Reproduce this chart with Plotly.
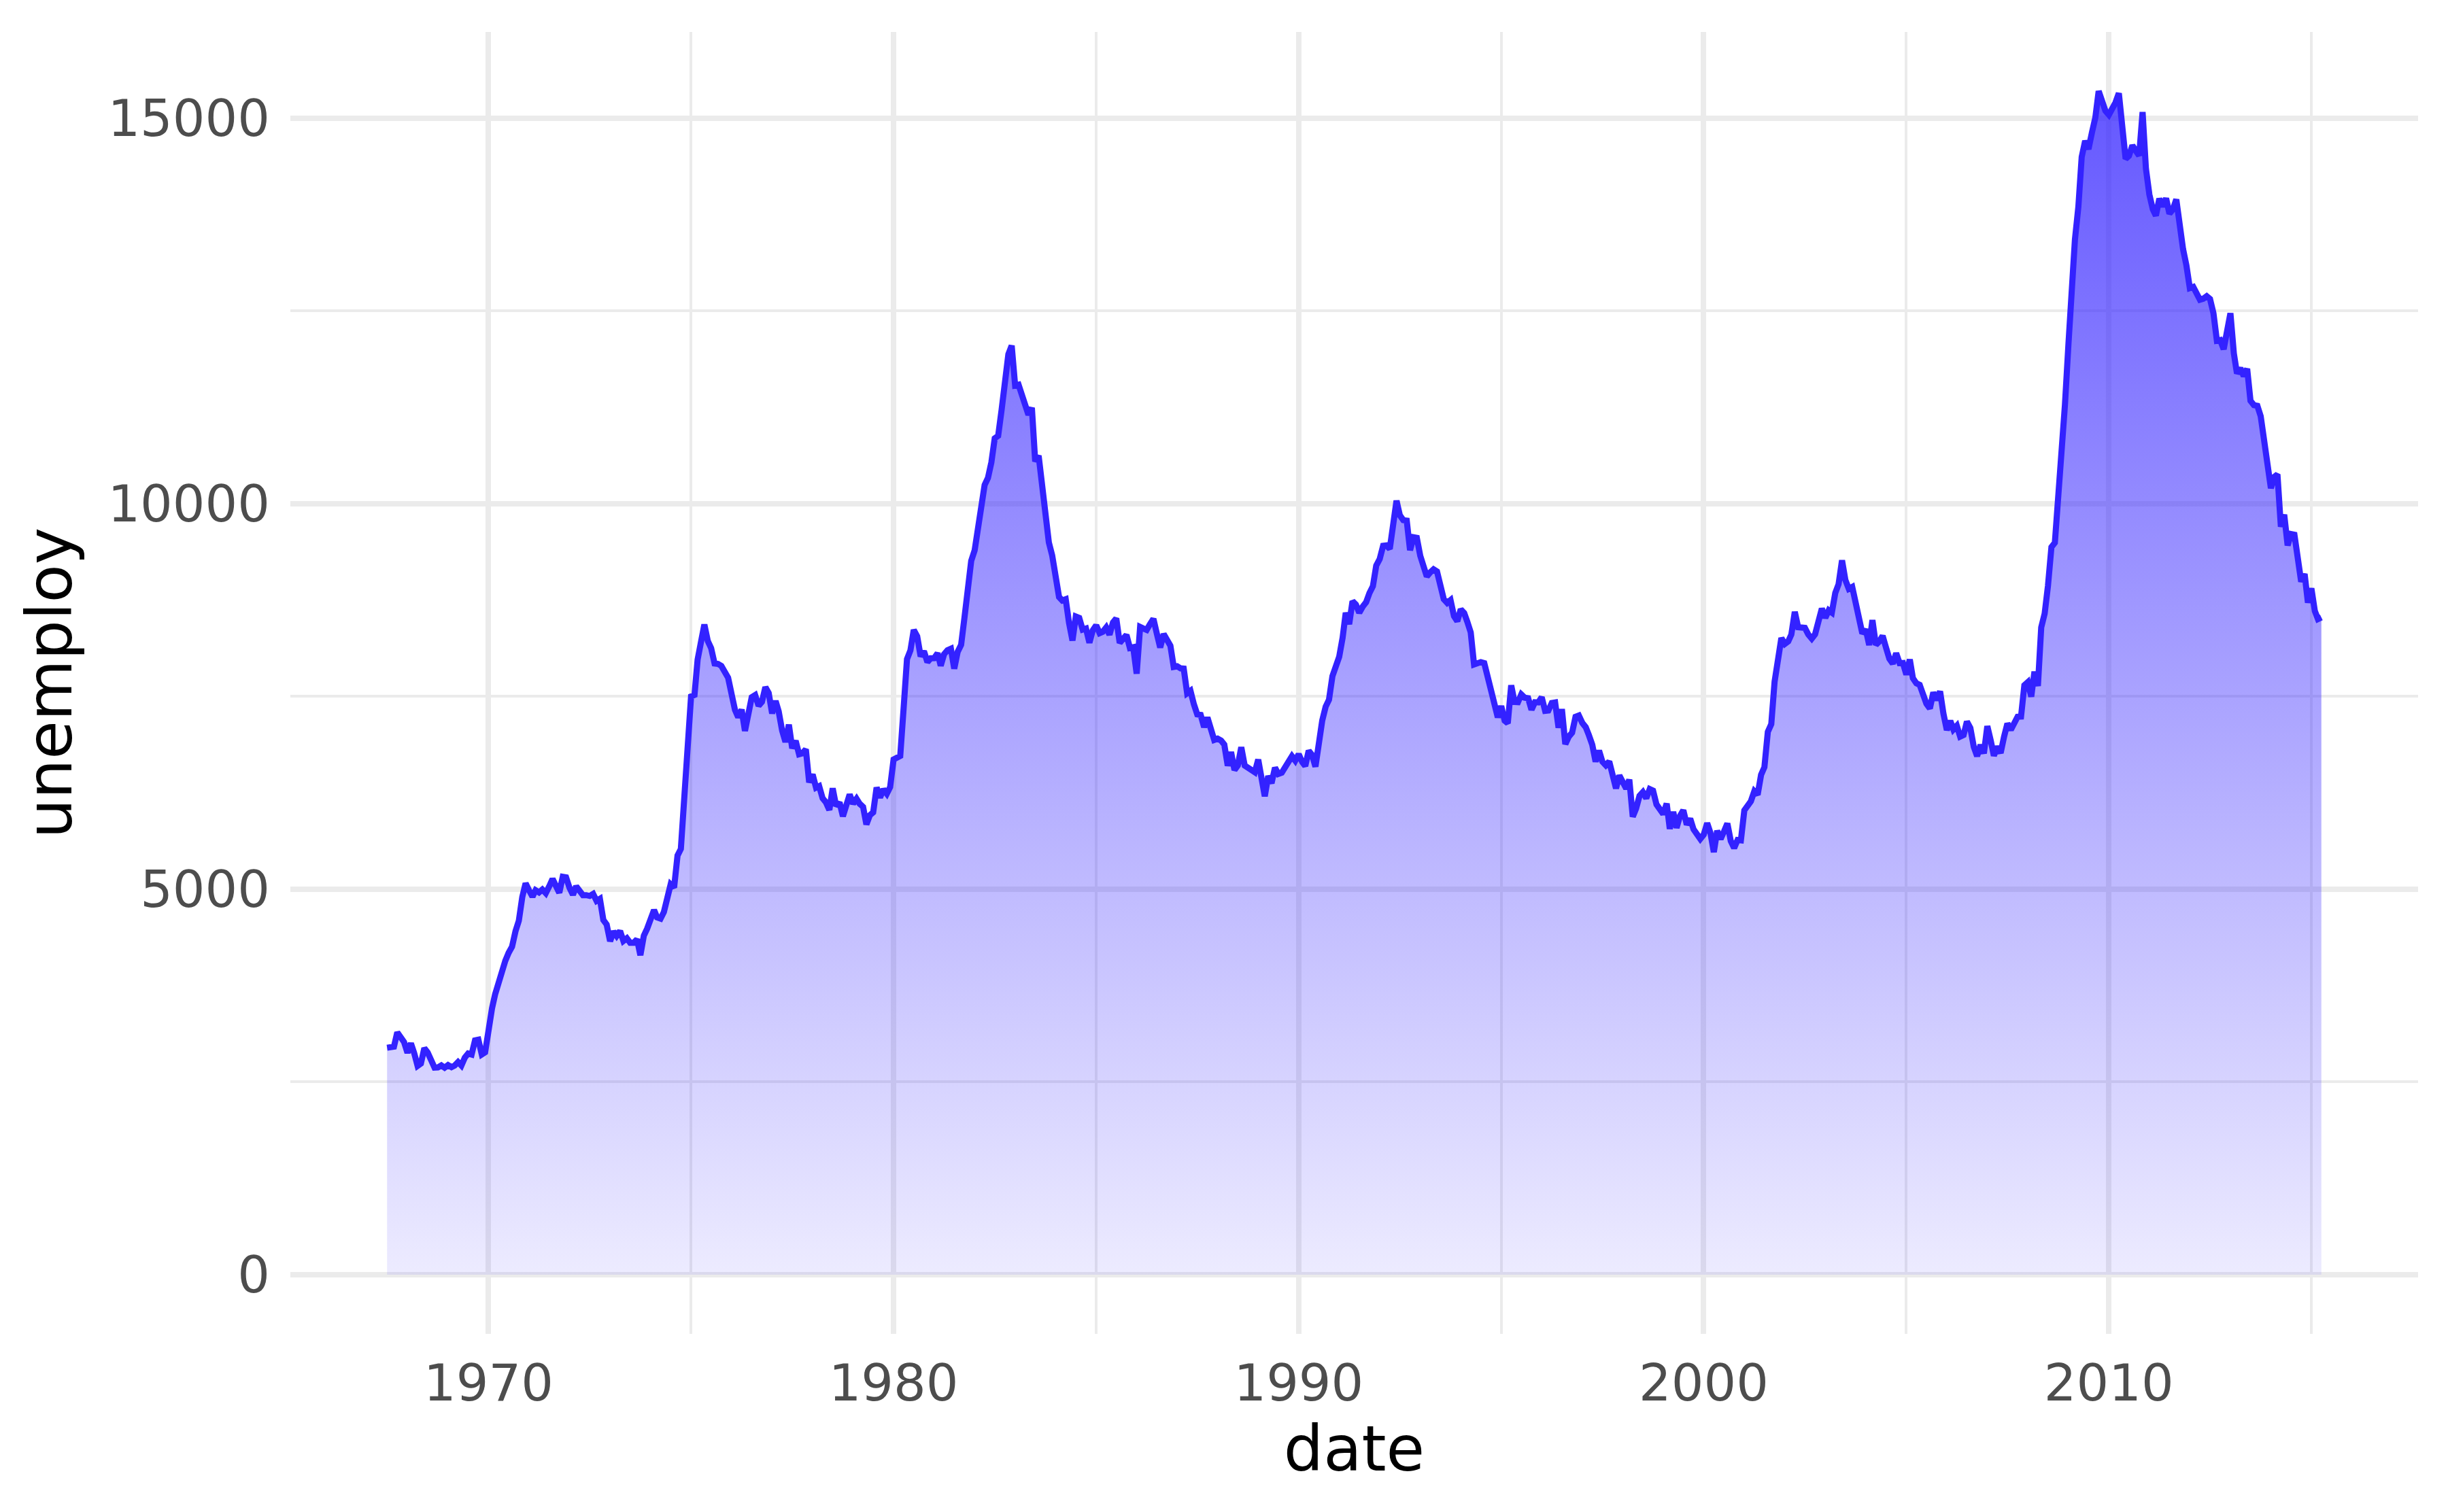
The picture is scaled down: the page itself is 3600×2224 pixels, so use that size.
import pandas as pd
import plotly.graph_objects as go

start_month = "1967-07-01"

unemploy = [
    # 1967 (Jul-Dec)
    2944, 2945, 2958, 3143, 3066, 3018,
    # 1968
    2878, 3001, 2877, 2709, 2740, 2938, 2883, 2768, 2686, 2689, 2715, 2685,
    # 1969
    2718, 2692, 2712, 2758, 2713, 2816, 2868, 2856, 3040, 3049, 2856, 2884,
    # 1970
    3201, 3453, 3635, 3797, 3919, 4071, 4175, 4256, 4456, 4591, 4898, 5076,
    # 1971
    4986, 4903, 4987, 4959, 4996, 4949, 5035, 5134, 5042, 4954, 5161, 5154,
    # 1972
    5019, 4928, 5038, 4959, 4922, 4923, 4913, 4939, 4849, 4875, 4602, 4543,
    # 1973
    4326, 4452, 4394, 4459, 4329, 4363, 4305, 4305, 4350, 4144, 4396, 4489,
    # 1974
    4644, 4731, 4634, 4618, 4705, 4927, 5063, 5022, 5437, 5523, 6140, 6636,
    # 1975
    7501, 7520, 7978, 8210, 8433, 8220, 8127, 7928, 7923, 7897, 7794, 7744,
    # 1976
    7534, 7326, 7230, 7330, 7053, 7322, 7490, 7518, 7380, 7430, 7620, 7545,
    # 1977
    7280, 7443, 7307, 7059, 6911, 7134, 6829, 6925, 6751, 6763, 6815, 6386,
    # 1978
    6489, 6318, 6337, 6180, 6127, 6028, 6309, 6080, 6125, 5947, 6077, 6228,
    # 1979
    6109, 6173, 6109, 6069, 5840, 5959, 5996, 6320, 6190, 6296, 6238, 6325,
    # 1980
    6683, 6702, 6729, 7358, 7984, 8098, 8363, 8281, 8021, 8088, 7946, 7996,
    # 1981
    7998, 8062, 7900, 8050, 8100, 8120, 7860, 8080, 8170, 8520, 8950, 9260,
    # 1982
    9397, 9705, 9895, 10244, 10335, 10538, 10849, 10881, 11217, 11529, 11938, 12051,
    # 1983
    11534, 11545, 11408, 11268, 11154, 11246, 10548, 10623, 10282, 9887, 9499, 9331,
    # 1984
    9008, 8791, 8746, 8762, 8456, 8226, 8537, 8519, 8367, 8381, 8198, 8358,
    # 1985
    8423, 8321, 8339, 8395, 8302, 8460, 8513, 8196, 8248, 8298, 8128, 8138,
    # 1986
    7795, 8402, 8383, 8364, 8439, 8508, 8319, 8135, 8310, 8243, 8159, 7883,
    # 1987
    7892, 7865, 7862, 7542, 7574, 7398, 7268, 7261, 7102, 7227, 7035, 6936,
    # 1988
    6953, 6929, 6876, 6601, 6779, 6546, 6605, 6843, 6604, 6568, 6537, 6518,
    # 1989
    6682, 6359, 6205, 6468, 6375, 6577, 6495, 6511, 6590, 6630, 6725, 6667,
    # 1990
    6752, 6651, 6598, 6797, 6742, 6590, 6922, 7188, 7368, 7459, 7764, 7901,
    # 1991
    8015, 8265, 8586, 8439, 8736, 8692, 8586, 8666, 8722, 8842, 8931, 9198,
    # 1992
    9283, 9454, 9460, 9415, 9744, 10040, 9850, 9787, 9781, 9398, 9565, 9557,
    # 1993
    9325, 9183, 9056, 9110, 9149, 9121, 8930, 8763, 8714, 8750, 8542, 8477,
    # 1994
    8630, 8583, 8470, 8331, 7915, 7927, 7946, 7933, 7734, 7632, 7375, 7230,
    # 1995
    7375, 7187, 7153, 7645, 7430, 7427, 7527, 7484, 7478, 7328, 7426, 7423,
    # 1996
    7491, 7313, 7318, 7415, 7423, 7095, 7337, 6882, 6979, 7031, 7236, 7253,
    # 1997
    7158, 7102, 7000, 6873, 6655, 6799, 6655, 6608, 6656, 6454, 6308, 6476,
    # 1998
    6368, 6306, 6422, 5941, 6047, 6212, 6259, 6179, 6300, 6280, 6100, 6032,
    # 1999
    5976, 6111, 5783, 6004, 5796, 5951, 6025, 5838, 5915, 5778, 5716, 5653,
    # 2000
    5708, 5858, 5733, 5481, 5758, 5651, 5747, 5853, 5625, 5534, 5639, 5634,
    # 2001
    6023, 6089, 6141, 6271, 6226, 6484, 6583, 7042, 7142, 7694, 8003, 8258,
    # 2002
    8182, 8215, 8304, 8599, 8399, 8393, 8390, 8304, 8251, 8307, 8520, 8640,
    # 2003
    8520, 8618, 8588, 8842, 8957, 9266, 9011, 8896, 8921, 8732, 8576, 8317,
    # 2004
    8370, 8167, 8491, 8170, 8212, 8286, 8136, 7990, 7927, 8061, 7932, 7934,
    # 2005
    7784, 7980, 7737, 7672, 7651, 7524, 7406, 7345, 7553, 7453, 7566, 7279,
    # 2006
    7064, 7184, 7072, 7120, 6980, 7001, 7175, 7091, 6847, 6727, 6872, 6762,
    # 2007
    7116, 6927, 6731, 6850, 6766, 6979, 7149, 7067, 7170, 7237, 7240, 7645,
    # 2008
    7685, 7497, 7822, 7637, 8395, 8575, 8937, 9438, 9494, 10074, 10538, 11286,
    # 2009
    12058, 12898, 13426, 13853, 14499, 14707, 14601, 14814, 15009, 15352, 15219, 15098,
    # 2010
    15046, 15113, 15202, 15325, 14849, 14474, 14512, 14648, 14579, 14516, 15081, 14348,
    # 2011
    14013, 13820, 13737, 13957, 13855, 13962, 13763, 13818, 13948, 13594, 13302, 13093,
    # 2012
    12797, 12813, 12713, 12646, 12660, 12692, 12656, 12471, 12115, 12124, 12005, 12298,
    # 2013
    12471, 11950, 11689, 11760, 11654, 11751, 11335, 11279, 11270, 11136, 10787, 10404,
    # 2014
    10202, 10349, 10380, 9702, 9859, 9460, 9608, 9599, 9262, 8990, 9090, 8717,
    # 2015 (Jan-Apr)
    8903, 8610, 8504, 8526,
]

x_title = "date"
y_title = "unemploy"
y_ticks = [0, 5000, 10000, 15000]

dates = pd.date_range(start_month, periods=len(unemploy), freq="MS")

# ggplot-style 5% expansion
span = dates[-1] - dates[0]
x_range = [dates[0] - 0.05 * span, dates[-1] + 0.05 * span]
ymax = max(unemploy)
y_range = [-0.05 * ymax, 1.05 * ymax]

LINE = "#3322ff"
GRID = "#ebebeb"
TICK_FONT = dict(family="DejaVu Sans", size=75, color="#4d4d4d")
TITLE_FONT = dict(family="DejaVu Sans", size=92, color="#000000")

fig = go.Figure()
fig.add_trace(go.Scatter(
    x=dates, y=unemploy, mode="lines",
    line=dict(color=LINE, width=9),
    fill="tozeroy",
    fillgradient=dict(
        type="vertical",
        start=0, stop=ymax,
        colorscale=[[0, "rgba(51,34,255,0.09)"], [1, "rgba(51,34,255,0.76)"]],
    ),
    showlegend=False,
))

fig.update_layout(
    width=3600, height=2224,
    margin=dict(l=419, r=52, t=39, b=270),
    paper_bgcolor="white", plot_bgcolor="white",
    font=dict(family="DejaVu Sans"),
    xaxis=dict(
        range=x_range, type="date",
        tick0="1970-01-01", dtick="M120", tickformat="%Y",
        showgrid=True, gridcolor=GRID, gridwidth=8,
        minor=dict(tick0="1965-01-01", dtick="M60", showgrid=True, gridcolor=GRID, gridwidth=4),
        zeroline=False, showline=False,
        ticks="outside", ticklen=7, tickcolor="rgba(0,0,0,0)",
        tickfont=TICK_FONT,
        title=dict(text=x_title, font=TITLE_FONT, standoff=14),
    ),
    yaxis=dict(
        range=y_range,
        tickvals=y_ticks, tickformat="d",
        showgrid=True, gridcolor=GRID, gridwidth=8,
        minor=dict(dtick=2500, tick0=0, showgrid=True, gridcolor=GRID, gridwidth=4),
        zeroline=False, showline=False,
        ticks="outside", ticklen=14, tickcolor="rgba(0,0,0,0)",
        tickfont=TICK_FONT,
        title=dict(text=y_title, font=TITLE_FONT, standoff=22),
    ),
)

fig.write_html("out.html")
